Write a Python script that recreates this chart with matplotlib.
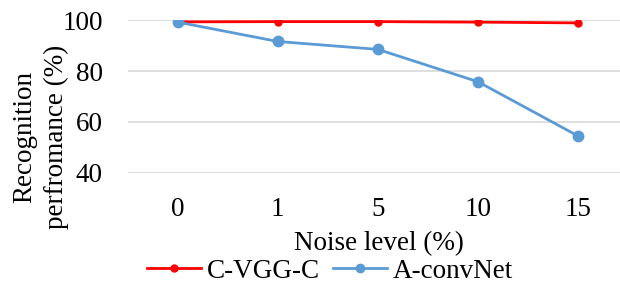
import matplotlib
matplotlib.use('Agg')
import matplotlib.pyplot as plt
from matplotlib.lines import Line2D

noise_levels = ['0', '1', '5', '10', '15']
cvggc = [99.3, 99.4, 99.4, 99.2, 98.9]
aconvnet = [99.2, 91.6, 88.5, 75.8, 54.5]

plt.rcParams['font.family'] = ['Liberation Serif', 'DejaVu Serif']
fs = 19.5

fig = plt.figure(figsize=(6.2, 2.83), dpi=100)
ax = fig.add_axes([0.206, 0.389, 0.807, 0.540])
x = list(range(len(noise_levels)))
red, blue = '#FF0000', '#5B9BD5'
ax.plot(x, cvggc, '-o', color=red, lw=2, ms=5, zorder=3)
ax.plot(x, aconvnet, '-o', color=blue, lw=2, ms=7.5, zorder=3)

ax.set_ylim(40, 100)
ax.set_xlim(-0.5, 4.5)
ax.set_yticks([40, 60, 80, 100])
ax.set_xticks(x)
ax.set_xticklabels(noise_levels)
ax.grid(axis='y', color='#D9D9D9', lw=1.2)
ax.set_axisbelow(True)
for s in ax.spines.values():
    s.set_visible(False)
ax.tick_params(length=0, labelsize=fs, colors='black')
ax.tick_params(axis='x', pad=17)
ax.tick_params(axis='y', pad=18)

fig.text(0.065, 0.515, 'Recognition\nperfromance (%)', fontsize=fs, rotation=90,
         ha='center', va='center', multialignment='center', linespacing=1.35)
fig.text(0.611, 0.138, 'Noise level (%)', fontsize=fs, ha='center', va='center')

handles = [Line2D([], [], color=red, lw=2, marker='o', ms=5),
           Line2D([], [], color=blue, lw=2, marker='o', ms=6)]
fig.legend(handles, ['C-VGG-C', 'A-convNet'], loc='center',
           bbox_to_anchor=(0.532, 0.042), ncol=2, frameon=False,
           fontsize=fs, handlelength=2.0, handletextpad=0.2, columnspacing=0.5,
           borderpad=0, borderaxespad=0)

fig.savefig('out.png', dpi=100)
